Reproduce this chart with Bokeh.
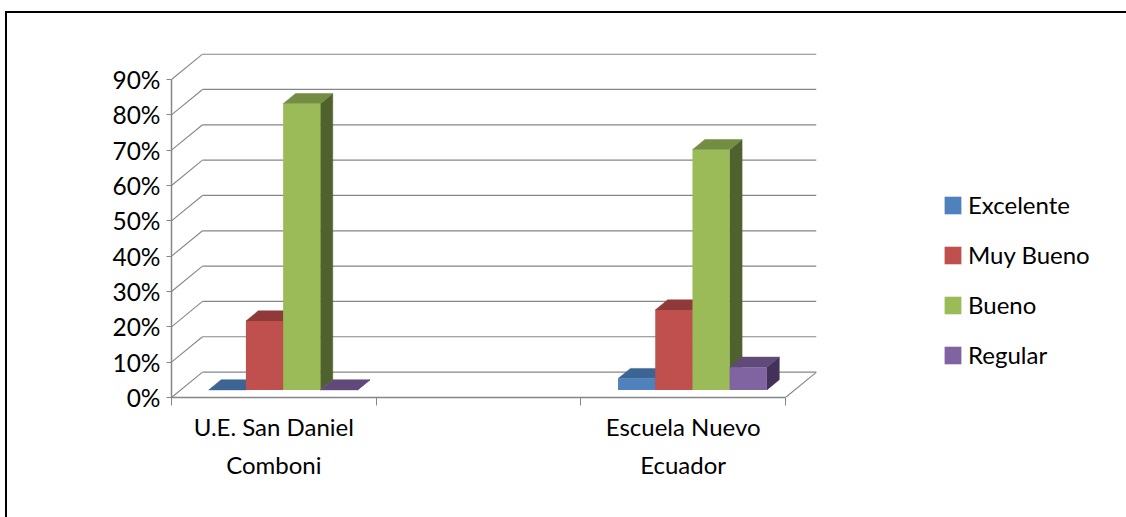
from bokeh.plotting import figure
from bokeh.embed import file_html
from bokeh.resources import INLINE
from bokeh.models import Legend, LegendItem, FixedTicker, NumeralTickFormatter, Range1d, LinearAxis, InlineStyleSheet

categories_line1 = ["U.E. San Daniel", "", "Escuela Nuevo"]
categories_line2 = ["Comboni", "", "Ecuador"]
series = ["Excelente", "Muy Bueno", "Bueno", "Regular"]
excelente = [0.0, None, 0.032]
muy_bueno = [0.195, None, 0.226]
bueno = [0.81, None, 0.68]
regular = [0.0, None, 0.064]
values = [excelente, muy_bueno, bueno, regular]
y_ticks = [i / 10 for i in range(10)]

front = ["#4F81BD", "#C0504D", "#9BBB59", "#8064A2"]
top = ["#3C6594", "#8F3A38", "#738D42", "#5F4A7A"]
side = ["#2F4E72", "#6E2C2A", "#4F622D", "#42325A"]

DX = 31 / 204.67
DY = 25.4 / 353.3
x_max = 3 + DX
y_max = 344 / 353.3

p = figure(width=1126, height=517, frame_width=645, frame_height=344,
           output_backend="svg", toolbar_location=None,
           x_range=Range1d(0, x_max), y_range=Range1d(0, y_max),
           min_border_left=171, min_border_right=0, min_border_top=53, min_border_bottom=0,
           outline_line_color=None, background_fill_color="white", border_fill_color="white")
p.grid.visible = False

grid = "#868686"
p.multi_line([[DX, 3 + DX] for t in y_ticks], [[t + DY, t + DY] for t in y_ticks], line_color=grid, line_width=1.2)
p.multi_line([[0, DX] for t in y_ticks], [[t, t + DY] for t in y_ticks], line_color=grid, line_width=1.1)
p.line([3, 3 + DX], [0, DY], line_color=grid, line_width=1.1)

bw = 1 / 5.5
d0, d1 = 0.30, 0.70
for ci in range(3):
    for si in range(len(series)):
        v = values[si][ci]
        if v is None:
            continue
        x0 = ci + (1 - 4 * bw) / 2 + si * bw + d0 * DX
        x1 = x0 + bw
        y0 = d0 * DY
        ex, ey = (d1 - d0) * DX, (d1 - d0) * DY
        yt = y0 + v
        p.patch([x1, x1 + ex, x1 + ex, x1], [y0, y0 + ey, yt + ey, yt], fill_color=side[si], line_color=side[si], line_width=0.5)
        p.patch([x0, x1, x1 + ex, x0 + ex], [yt, yt, yt + ey, yt + ey], fill_color=top[si], line_color=top[si], line_width=0.5)
        if v > 0:
            p.quad(left=[x0], right=[x1], bottom=[y0], top=[yt], fill_color=front[si], line_color=None)

rs = [p.quad(left=[0], right=[0], bottom=[0], top=[0], fill_color=front[i], line_color=None) for i in range(4)]
legend = Legend(items=[LegendItem(label=series[i], renderers=[rs[i]]) for i in range(4)],
                location=(126, 28), orientation="vertical", glyph_width=21, glyph_height=22,
                label_standoff=5, spacing=21, padding=0, margin=0,
                border_line_color=None, background_fill_alpha=0,
                label_text_font="Lato", label_text_font_size="24px", label_text_color="#000000")
p.add_layout(legend, "right")

ya = p.yaxis[0]
ya.ticker = FixedTicker(ticks=y_ticks)
ya.formatter = NumeralTickFormatter(format="0%")
ya.bounds = (0, 0.9)
ya.axis_line_color = grid
ya.axis_line_width = 1.5
ya.major_tick_line_color = grid
ya.major_tick_out = 5
ya.major_tick_in = 0
ya.minor_tick_out = 0
ya.minor_tick_in = 0
ya.major_label_text_font = "Lato"
ya.major_label_text_font_size = "24.5px"
ya.major_label_text_color = "#000000"
ya.major_label_standoff = 6

xa = p.xaxis[0]
xa.ticker = FixedTicker(ticks=[0.5, 2.5], minor_ticks=[0, 1, 2, 3])
xa.major_label_overrides = {0.5: categories_line1[0], 2.5: categories_line1[2]}
xa.bounds = (0, 3)
xa.axis_line_color = grid
xa.axis_line_width = 1.5
xa.major_tick_line_color = None
xa.major_tick_out = 0
xa.major_tick_in = 0
xa.minor_tick_line_color = grid
xa.minor_tick_out = 8
xa.minor_tick_in = 0
xa.major_label_text_font = "Lato"
xa.major_label_text_font_size = "24px"
xa.major_label_text_color = "#000000"
xa.major_label_standoff = 6

xb = LinearAxis(ticker=FixedTicker(ticks=[0.5, 2.5]),
                major_label_overrides={0.5: categories_line2[0], 2.5: categories_line2[2]},
                axis_line_color=None, major_tick_line_color=None, minor_tick_line_color=None,
                major_tick_out=0, major_tick_in=0, minor_tick_out=0, minor_tick_in=0,
                major_label_text_font="Lato", major_label_text_font_size="24px",
                major_label_text_color="#000000", major_label_standoff=6)
p.add_layout(xb, "below")

p.stylesheets = [InlineStyleSheet(css=":host::after{content:'';position:absolute;left:5px;top:11px;width:1121px;height:506px;"
                                      "box-sizing:border-box;border-left:2px solid #000;border-top:2px solid #000;pointer-events:none;z-index:10}")]

open("out.html", "w").write(file_html(p, INLINE))
